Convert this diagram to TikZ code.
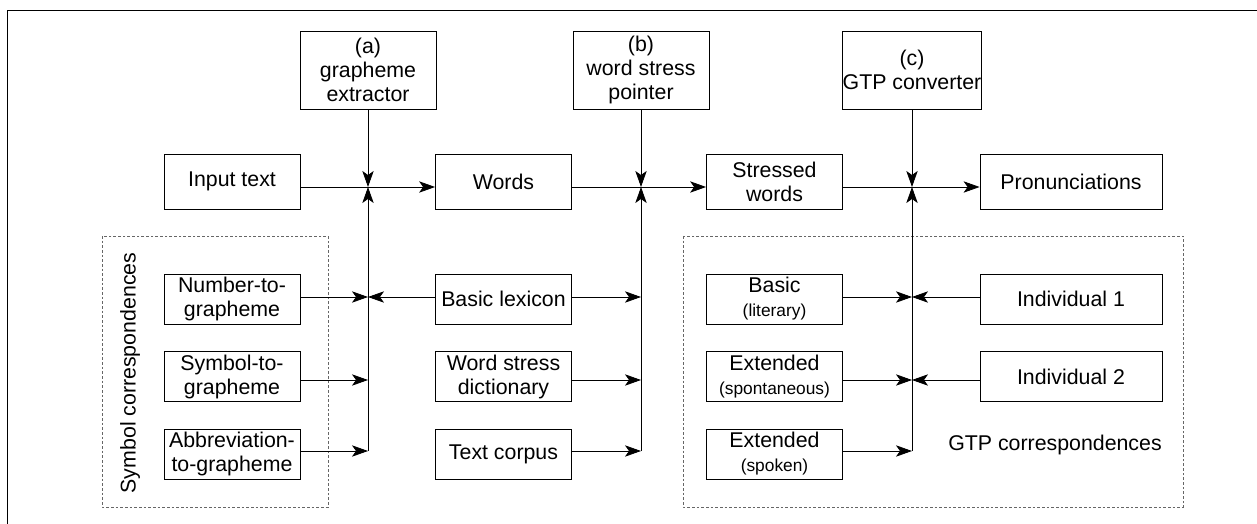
\documentclass[tikz,border=0pt]{standalone}
\usepackage{fontspec}
\setmainfont{Liberation Sans}
\usetikzlibrary{arrows.meta}

\newcommand{\smalltxt}[1]{{\fontsize{13}{15}\selectfont #1}}

\begin{document}
\begin{tikzpicture}[>={Stealth[length=12pt,width=8.5pt,inset=3pt]}, semithick, x=0.75pt, y=-0.75pt,
        blk/.style={draw, align=center, inner sep=0pt, minimum width=102pt, minimum height=37.5pt},
        topblk/.style={blk, minimum height=58.5pt},
        rowblk/.style={blk, minimum height=41.25pt},
        group/.style={draw=black!60, dash pattern=on 2pt off 1.5pt}]
        \fontsize{16}{18}\selectfont
        \useasboundingbox (0, 0) rectangle (1257, 524);
        \draw (7, 524) -- (7, 10) -- (1257, 10);

        \draw[group] (102, 236) rectangle (328, 507);
        \draw[group] (683, 236) rectangle (1183, 507);

        \node[topblk] (extractor) at (368, 70) {(a)\\grapheme\\extractor};
        \node[topblk] (pointer) at (641, 70) {(b)\\word stress\\pointer};
        \node[topblk, minimum width=103.5pt] (converter) at (912, 70) {(c)\\GTP converter};

        \node[rowblk] (input) at (232, 181.5) {Input text};
        \node[rowblk] (words) at (503.5, 181.5) {Words};
        \node[rowblk] (stressed) at (774.5, 181.5) {Stressed\\words};
        \node[rowblk, minimum width=136.5pt] (pron) at (1071, 181.5) {Pronunciations};

        \node[blk] (num) at (232, 299) {Number-to-\\grapheme};
        \node[blk] (sym) at (232, 376.5) {Symbol-to-\\grapheme};
        \node[blk] (abbr) at (232, 454) {Abbreviation-\\to-grapheme};

        \node[blk] (lexicon) at (503.5, 299) {Basic lexicon};
        \node[blk] (dict) at (503.5, 376.5) {Word stress\\dictionary};
        \node[blk] (corpus) at (503.5, 454) {Text corpus};

        \node[blk] (basic) at (774.5, 299) {Basic\\\smalltxt{(literary)}};
        \node[blk] (spont) at (774.5, 376.5) {Extended\\\smalltxt{(spontaneous)}};
        \node[blk] (spoken) at (774.5, 454) {Extended\\\smalltxt{(spoken)}};
        \node[blk, minimum width=136.5pt] (ind1) at (1071, 299) {Individual 1};
        \node[blk, minimum width=136.5pt] (ind2) at (1071, 376.5) {Individual 2};

        \node[rotate=90] (symlabel) at (130, 373) {Symbol correspondences};
        \node (gtplabel) at (1055, 445) {GTP correspondences};

        % junctions on the main line and the three buses
        \coordinate (ja) at (368, 187);
        \coordinate (jb) at (641, 187);
        \coordinate (jc) at (912, 187);
        \foreach \j/\x in {a/368, b/641, c/912} {
            \coordinate (\j1) at (\x, 297);
            \coordinate (\j2) at (\x, 380);
            \coordinate (\j3) at (\x, 451);
        }

        \draw[->] (input.east |- ja) -- (words.west |- ja);
        \draw[->] (words.east |- jb) -- (stressed.west |- jb);
        \draw[->] (stressed.east |- jc) -- (pron.west |- jc);

        \draw[->] (extractor) -- (ja);
        \draw[->] (pointer) -- (jb);
        \draw[->] (converter) -- (jc);
        \draw[->] (a3) -- (ja);
        \draw[->] (b3) -- (jb);
        \draw[->] (c3) -- (jc);

        \draw[->] (num.east |- a1) -- (a1);
        \draw[->] (sym.east |- a2) -- (a2);
        \draw[->] (abbr.east |- a3) -- (a3);
        \draw[->] (lexicon.west |- a1) -- (a1);

        \draw[->] (lexicon.east |- b1) -- (b1);
        \draw[->] (dict.east |- b2) -- (b2);
        \draw[->] (corpus.east |- b3) -- (b3);

        \draw[->] (basic.east |- c1) -- (c1);
        \draw[->] (spont.east |- c2) -- (c2);
        \draw[->] (spoken.east |- c3) -- (c3);
        \draw[->] (ind1.west |- c1) -- (c1);
        \draw[->] (ind2.west |- c2) -- (c2);
    \end{tikzpicture}
\end{document}
